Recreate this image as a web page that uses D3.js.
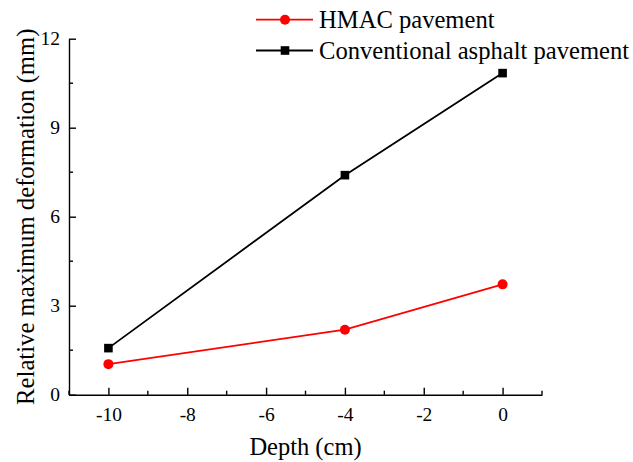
<!DOCTYPE html>
<html>
<head>
<meta charset="utf-8">
<script src="https://cdn.jsdelivr.net/npm/d3@7"></script>
<style>
  html, body { margin: 0; padding: 0; background: #fff; }
  svg { display: block; }
  svg text { font-family: "Liberation Serif", "Times New Roman", Times, serif !important; fill: #000; }
</style>
</head>
<body>
<svg id="chart" width="633" height="462"></svg>
<script>
const depths = [-10, -4, 0];
const hmacValues = [1.03, 2.19, 3.72];
const conventionalValues = [1.57, 7.40, 10.84];
const seriesNames = ["HMAC pavement", "Conventional asphalt pavement"];
const xTicks = [-10, -8, -6, -4, -2, 0];
const yTicks = [0, 3, 6, 9, 12];
const xMinorTicks = [-11, -9, -7, -5, -3, -1, 1];
const yMinorTicks = [1.5, 4.5, 7.5, 10.5];
const xTitle = "Depth (cm)";
const yTitle = "Relative maximum deformation (mm)";

const FONT = "'Liberation Serif', 'Times New Roman', Times, serif";
const svg = d3.select("#chart");
const plotLeft = 69, plotRight = 542, plotTop = 38.7, plotBottom = 394.7;

const x = d3.scaleLinear().domain([-11, 1]).range([plotLeft, plotRight]);
const y = d3.scaleLinear().domain([0, 12]).range([plotBottom, plotTop]);

// Axes (ticks inward)
const xAxis = svg.append("g").attr("transform", `translate(0,${plotBottom})`)
  .call(d3.axisBottom(x).tickValues(xTicks).tickSizeInner(-7).tickSizeOuter(0).tickPadding(12)
    .tickFormat(d => d < 0 ? "-" + Math.abs(d) : d));
xAxis.attr("font-family", FONT);
xAxis.selectAll(".tick text").style("font-size", "19.5px").style("font-family", FONT).attr("dy", "0.71em");
xAxis.append("g").selectAll("line").data(xMinorTicks).join("line")
  .attr("x1", d => x(d)).attr("x2", d => x(d)).attr("y1", 0).attr("y2", -4)
  .attr("stroke", "#000").attr("stroke-width", 1.4);

const yAxis = svg.append("g").attr("transform", `translate(${plotLeft},0)`)
  .call(d3.axisLeft(y).tickValues(yTicks).tickSizeInner(-7).tickSizeOuter(0).tickPadding(9));
yAxis.attr("font-family", FONT);
yAxis.selectAll(".tick text").style("font-size", "19.5px").style("font-family", FONT);
yAxis.append("g").selectAll("line").data(yMinorTicks).join("line")
  .attr("y1", d => y(d)).attr("y2", d => y(d)).attr("x1", 0).attr("x2", 4)
  .attr("stroke", "#000").attr("stroke-width", 1.4);

svg.selectAll(".domain, .tick line").attr("stroke", "#000").attr("stroke-width", 1.4);

// Titles
svg.append("text").attr("x", (plotLeft + plotRight) / 2).attr("y", 455)
  .attr("text-anchor", "middle").style("font-size", "24.5px").style("font-family", FONT).text(xTitle);
svg.append("text").attr("transform", `translate(34,${(plotTop + plotBottom) / 2}) rotate(-90)`)
  .attr("text-anchor", "middle").style("font-size", "24.7px").style("font-family", FONT).text(yTitle);

// Lines
const line = d3.line().x(d => x(d[0])).y(d => y(d[1]));
const hmacData = depths.map((d, i) => [d, hmacValues[i]]);
const convData = depths.map((d, i) => [d, conventionalValues[i]]);

svg.append("path").datum(convData).attr("d", line)
  .attr("fill", "none").attr("stroke", "#000").attr("stroke-width", 1.8);
svg.append("path").datum(hmacData).attr("d", line)
  .attr("fill", "none").attr("stroke", "#ff0000").attr("stroke-width", 1.8);

const sq = 8.6;
svg.append("g").selectAll("rect").data(convData).join("rect")
  .attr("x", d => x(d[0]) - sq / 2).attr("y", d => y(d[1]) - sq / 2)
  .attr("width", sq).attr("height", sq).attr("fill", "#000");
svg.append("g").selectAll("circle").data(hmacData).join("circle")
  .attr("cx", d => x(d[0])).attr("cy", d => y(d[1])).attr("r", 5).attr("fill", "#ff0000");

// Legend
const legend = svg.append("g");
const rows = [
  { name: seriesNames[0], color: "#ff0000", shape: "circle", y: 19.7 },
  { name: seriesNames[1], color: "#000", shape: "square", y: 50.5 }
];
rows.forEach(r => {
  legend.append("line").attr("x1", 256).attr("x2", 313).attr("y1", r.y).attr("y2", r.y)
    .attr("stroke", r.color).attr("stroke-width", 1.8);
  if (r.shape === "circle") {
    legend.append("circle").attr("cx", 285).attr("cy", r.y).attr("r", 5).attr("fill", r.color);
  } else {
    legend.append("rect").attr("x", 285 - sq / 2).attr("y", r.y - sq / 2)
      .attr("width", sq).attr("height", sq).attr("fill", r.color);
  }
  legend.append("text").attr("x", 319).attr("y", r.y + 8.5)
    .style("font-size", "24.6px").style("font-family", FONT).text(r.name);
});
</script>
</body>
</html>
